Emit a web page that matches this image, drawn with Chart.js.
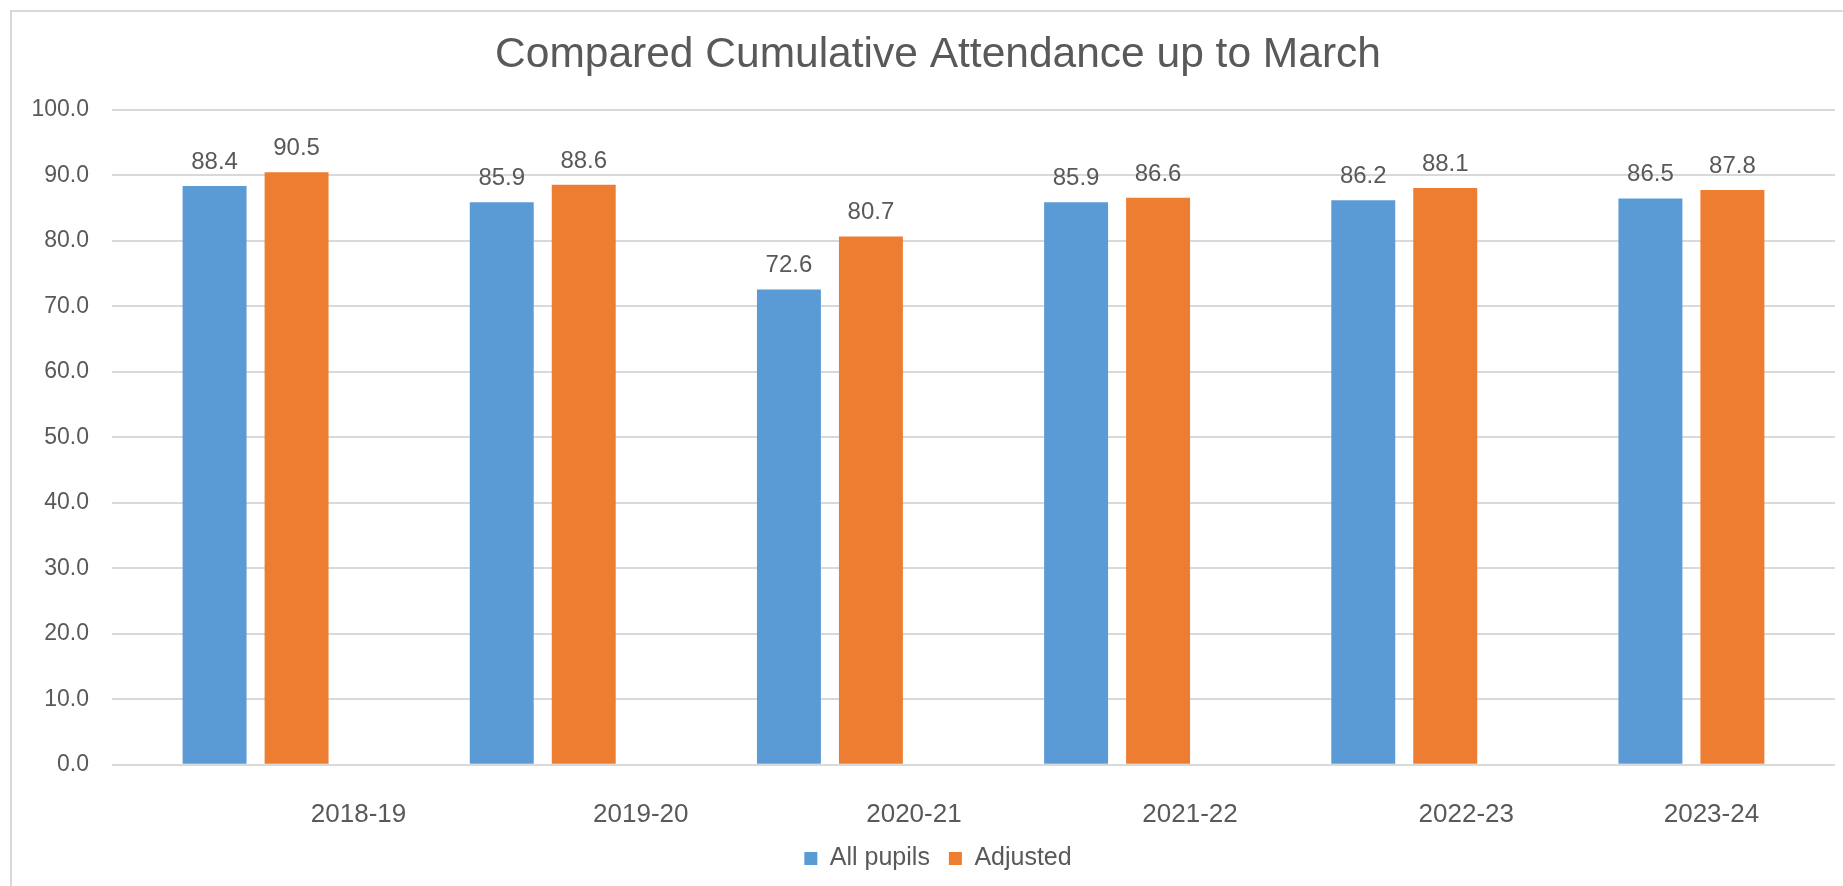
<!DOCTYPE html>
<html>
<head>
<meta charset="utf-8">
<script src="https://cdn.jsdelivr.net/npm/chart.js@4"></script>
<style>
  body { margin: 0; background: #fff; overflow: hidden; }
  #frame { position: absolute; left: 10px; top: 10px; width: 1900px; height: 900px; border-left: 2px solid #d9d9d9; border-top: 2px solid #d9d9d9; }
  #chart { position: absolute; left: 0; top: 0; }
</style>
</head>
<body>
<div id="frame"></div>
<canvas id="chart" width="1843" height="886"></canvas>
<script>
// Data
const years = ["2018-19", "2019-20", "2020-21", "2021-22", "2022-23", "2023-24"];
const allPupils = [88.4, 85.9, 72.6, 85.9, 86.2, 86.5];
const adjusted = [90.5, 88.6, 80.7, 86.6, 88.1, 87.8];

const textColor = "#595959";
const fontFamily = "'Liberation Sans', Arial, sans-serif";
// the category labels in the original sit right of their groups, by varying amounts
const labelNudge = [103, 98, 84, 73, 62, 20];
const labelDrop = 14.5;

// Value labels above each bar
const valueLabels = {
  id: "valueLabels",
  afterDatasetsDraw(chart) {
    const ctx = chart.ctx;
    ctx.save();
    ctx.fillStyle = textColor;
    ctx.font = "24px " + fontFamily;
    ctx.textAlign = "center";
    ctx.textBaseline = "alphabetic";
    chart.data.datasets.forEach((ds, di) => {
      chart.getDatasetMeta(di).data.forEach((bar, i) => {
        ctx.fillText(ds.data[i].toFixed(1), bar.x, bar.y - 17);
      });
    });
    ctx.restore();
  },
};

// Shift x tick labels, and let axis labels draw past their boxes
const nudgeLabels = {
  id: "nudgeLabels",
  afterLayout(chart) {
    chart.scales.y.left = 0;
    chart.scales.x.bottom = chart.height;
  },
  beforeDraw(chart) {
    const items = chart.scales.x.getLabelItems(chart.chartArea);
    if (items._nudged) return;
    items.forEach((it, i) => {
      it.options.translation[0] += labelNudge[i] || 0;
      it.options.translation[1] += labelDrop;
    });
    items._nudged = true;
  },
};

new Chart(document.getElementById("chart"), {
  type: "bar",
  data: {
    labels: years,
    datasets: [
      {
        label: "All pupils",
        data: allPupils,
        backgroundColor: "#5b9bd5",
        categoryPercentage: 0.571,
        barPercentage: 0.78,
      },
      {
        label: "Adjusted",
        data: adjusted,
        backgroundColor: "#ed7d31",
        categoryPercentage: 0.571,
        barPercentage: 0.78,
      },
    ],
  },
  options: {
    responsive: false,
    animation: false,
    layout: {
      padding: { left: 41, right: 8, top: 12, bottom: 5 },
    },
    scales: {
      x: {
        grid: { display: false },
        border: { display: false },
        ticks: {
          color: textColor,
          font: { family: fontFamily, size: 26 },
          padding: 11.5,
          maxRotation: 0,
          autoSkip: false,
        },
      },
      y: {
        min: 0,
        max: 100,
        border: { display: false },
        grid: { color: "#d9d9d9", lineWidth: 2, drawTicks: false },
        ticks: {
          stepSize: 10,
          color: textColor,
          font: { family: fontFamily, size: 23 },
          padding: 23,
          callback: (v) => v.toFixed(1),
        },
        afterFit: (scale) => {
          scale.width = 71;
        },
      },
    },
    plugins: {
      title: {
        display: true,
        text: "Compared Cumulative Attendance up to March",
        color: textColor,
        font: { family: fontFamily, size: 42.5, weight: "normal" },
        padding: { top: 18, bottom: 29 },
      },
      legend: {
        position: "bottom",
        maxHeight: 63,
        labels: {
          color: textColor,
          font: { family: fontFamily, size: 25 },
          boxWidth: 13,
          boxHeight: 13,
          padding: 19,
        },
      },
      tooltip: { enabled: false },
    },
  },
  plugins: [valueLabels, nudgeLabels],
});
</script>
</body>
</html>
